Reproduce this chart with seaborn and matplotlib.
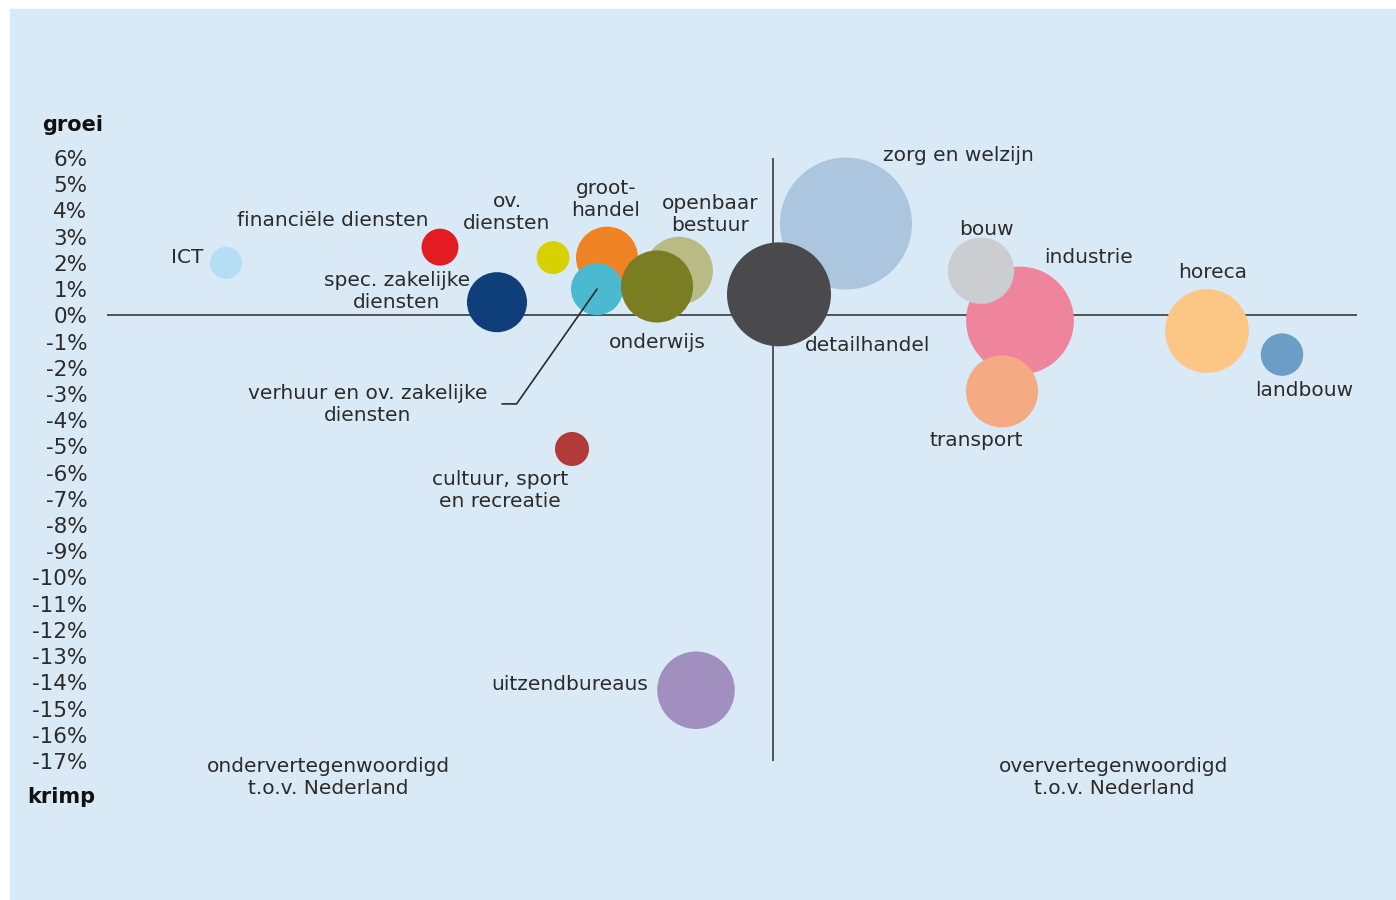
import pandas as pd
import matplotlib
matplotlib.use("Agg")
import matplotlib.pyplot as plt
from matplotlib.patches import Rectangle
import seaborn as sns

# sectors: x = representation index (1 = gelijk aan Nederland), y = groei (%)
sectoren = ["ICT", "financiële diensten", "spec. zakelijke diensten", "ov. diensten",
            "groothandel", "verhuur en ov. zakelijke diensten", "openbaar bestuur",
            "onderwijs", "zorg en welzijn", "detailhandel", "industrie", "bouw",
            "transport", "horeca", "landbouw", "cultuur, sport en recreatie",
            "uitzendbureaus"]
index = [0.453, 0.667, 0.724, 0.780, 0.834, 0.824, 0.906, 0.884, 1.073, 1.006,
         1.247, 1.208, 1.229, 1.434, 1.509, 0.799, 0.923]
groei = [2.0, 2.6, 0.5, 2.2, 2.2, 1.0, 1.7, 1.1, 3.5, 0.8,
         -0.2, 1.7, -2.9, -0.6, -1.5, -5.1, -14.3]
banen = [5.1, 6.8, 18.0, 5.4, 19.2, 13.5, 23.0, 26.0, 87.0, 54.0,
         58.0, 22.0, 26.0, 35.0, 9.0, 5.8, 30.0]
kleuren = ["#b5ddf3", "#e31b23", "#0e3f7a", "#d8d000", "#f08424", "#4bb9cf",
           "#b9bb85", "#7a7d22", "#adc6e0", "#4a4a4c", "#ef849d", "#cbcdd0",
           "#f4aa83", "#fcc685", "#6a9ec6", "#b23b38", "#a08fbf"]
yticks = list(range(-17, 7))

df = pd.DataFrame({"sector": sectoren, "index": index, "groei": groei, "banen": banen})

sns.set_style("white")
plt.rcParams["font.family"] = ["DejaVu Sans"]
txt = "#2b2b2b"

fig = plt.figure(figsize=(13.96, 9), dpi=100)
fig.patches.append(Rectangle((10 / 1396, 0), 1386 / 1396, 891 / 900,
                             transform=fig.transFigure, color="#d9eaf6", zorder=-10))

ax = fig.add_axes([107 / 1396, 139 / 900, 1250 / 1396, 603 / 900])
ax.set_facecolor("none")

ax.axhline(0, color="#3a3a3a", lw=1.2, zorder=1)
ax.axvline(1.0, color="#3a3a3a", lw=1.2, zorder=1)

# bubble area proportional to banen
smax = (2 * 66 * 0.72) ** 2
sns.scatterplot(data=df, x="index", y="groei", hue="sector", size="banen",
                palette=dict(zip(sectoren, kleuren)), sizes=(0, smax),
                size_norm=(0, max(banen)), linewidth=0, alpha=1, legend=False,
                ax=ax, zorder=2, clip_on=False)

ax.set_xlim(0.334, 1.584)
ax.set_ylim(-17, 6)
ax.set_yticks(yticks)
ax.set_yticklabels([f"{v}%" for v in yticks])
ax.set_xticks([])
ax.tick_params(axis="y", length=0, pad=14, labelsize=15.5, labelcolor=txt)
ax.set_xlabel("")
ax.set_ylabel("")
sns.despine(ax=ax, left=True, bottom=True)

fs = 14.5
labels = [
    ("ICT", 0.430, 2.19, "right"),
    ("financiële diensten", 0.560, 3.63, "center"),
    ("spec. zakelijke\ndiensten", 0.624, 0.89, "center"),
    ("ov.\ndiensten", 0.734, 3.94, "center"),
    ("groot-\nhandel", 0.833, 4.43, "center"),
    ("openbaar\nbestuur", 0.937, 3.86, "center"),
    ("onderwijs", 0.884, -1.02, "center"),
    ("detailhandel", 1.095, -1.17, "center"),
    ("zorg en welzijn", 1.185, 6.11, "center"),
    ("bouw", 1.213, 3.29, "center"),
    ("industrie", 1.315, 2.19, "center"),
    ("horeca", 1.440, 1.65, "center"),
    ("landbouw", 1.531, -2.85, "center"),
    ("transport", 1.203, -4.76, "center"),
    ("verhuur en ov. zakelijke\ndiensten", 0.595, -3.42, "center"),
    ("cultuur, sport\nen recreatie", 0.727, -6.70, "center"),
    ("uitzendbureaus", 0.797, -14.10, "center"),
    ("ondervertegenwoordigd\nt.o.v. Nederland", 0.555, -17.64, "center"),
    ("oververtegenwoordigd\nt.o.v. Nederland", 1.341, -17.64, "center"),
]
for s, x, y, ha in labels:
    ax.text(x, y, s, ha=ha, va="center", fontsize=fs, color=txt, zorder=3,
            clip_on=False, linespacing=1.2)

# leader line to verhuur bubble
i = sectoren.index("verhuur en ov. zakelijke diensten")
ax.annotate("", xy=(index[i], groei[i]), xytext=(0.729, -3.38),
            arrowprops=dict(arrowstyle="-", color="#2b2b2b", lw=1.2,
                            shrinkA=0, shrinkB=0,
                            connectionstyle="angle,angleA=0,angleB=55,rad=0"),
            zorder=3, annotation_clip=False)

fig.text(73 / 1396, 1 - 125 / 900, "groei", ha="center", va="center",
         fontsize=15, fontweight="bold", color="#111111")
fig.text(61 / 1396, 1 - 797 / 900, "krimp", ha="center", va="center",
         fontsize=15, fontweight="bold", color="#111111")

fig.savefig("out.png", dpi=100)
